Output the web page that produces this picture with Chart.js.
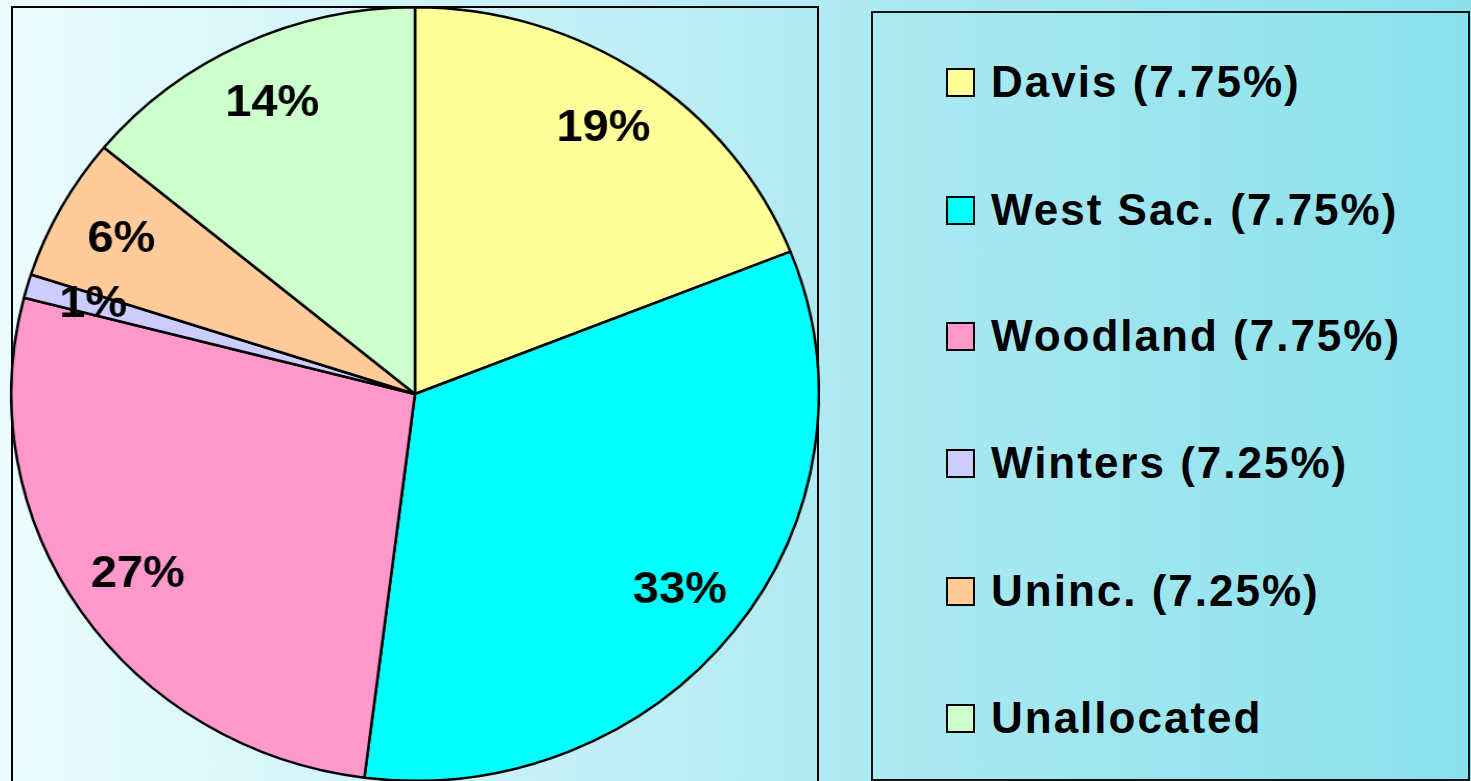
<!DOCTYPE html>
<html>
<head>
<meta charset="utf-8">
<title>Sales tax share by jurisdiction</title>
<script src="https://cdn.jsdelivr.net/npm/chart.js@4/dist/chart.umd.min.js"></script>
<style>
  html, body {
    margin: 0;
    width: 1471px;
    height: 781px;
    overflow: hidden;
    font-family: "Liberation Sans", Arial, sans-serif;
  }
  body {
    position: relative;
    background: linear-gradient(to right, #ecfcfe 0%, #b0eaf2 56%, #8ae1eb 100%);
  }
  #plot-box {
    position: absolute;
    left: 11px;
    top: 6px;
    width: 804px;
    height: 800px;
    border: 2px solid #000;
  }
  #pie-wrap {
    position: absolute;
    left: 27px;
    top: 6px;
    width: 776px;
    height: 776px;
    /* the pie is drawn a little wider than tall */
    transform: scaleX(1.044);
    transform-origin: 50% 50%;
  }
  #legend-box {
    position: absolute;
    left: 871px;
    top: 11px;
    width: 595px;
    height: 766px;
    border: 2px solid #111;
  }
  .legend-row {
    position: absolute;
    left: 73px;
    height: 40px;
    display: flex;
    align-items: center;
    font-weight: bold;
    font-size: 44px;
    letter-spacing: 2px;
    color: #000;
    white-space: nowrap;
  }
  .legend-swatch {
    width: 25px;
    height: 25px;
    border: 2px solid #000;
    margin-right: 16px;
    flex: none;
  }
</style>
</head>
<body>
<div id="plot-box"></div>
<div id="pie-wrap"><canvas id="pie" width="776" height="776"></canvas></div>
<div id="legend-box"></div>

<script>
// ─── Data ───────────────────────────────────────────────────────────────────
const categories = ['Davis', 'West Sac.', 'Woodland', 'Winters', 'Uninc.', 'Unallocated'];
const taxRates = ['7.75%', '7.75%', '7.75%', '7.25%', '7.25%', ''];
const shares = [19, 33, 27, 1, 6, 14];

// Classic office palette, one per slice.
const sliceColors = ['#FFFF99', '#00FFFF', '#FF99CC', '#CCCCFF', '#FFCC99', '#CCFFCC'];

// Legend row centres (y within the page).
const legendRowY = [80, 208, 334, 461, 589, 716];

// ─── Slice labels ───────────────────────────────────────────────────────────
// Writes "NN%" inside each slice, along the slice's middle angle.
const sliceLabels = {
  id: 'sliceLabels',
  afterDatasetsDraw(chart) {
    const ctx = chart.ctx;
    const meta = chart.getDatasetMeta(0);
    ctx.save();
    ctx.font = 'bold 45px "Liberation Sans", Arial, sans-serif';
    ctx.fillStyle = '#000';
    ctx.textAlign = 'center';
    ctx.textBaseline = 'middle';
    meta.data.forEach((arc, i) => {
      const { x, y, startAngle, endAngle, outerRadius } = arc.getProps(
        ['x', 'y', 'startAngle', 'endAngle', 'outerRadius'], true);
      const mid = (startAngle + endAngle) / 2;
      const r = outerRadius * 0.83;
      ctx.fillText(shares[i] + '%', x + Math.cos(mid) * r, y + Math.sin(mid) * r);
    });
    ctx.restore();
  },
};

// ─── Chart ──────────────────────────────────────────────────────────────────
const chart = new Chart(document.getElementById('pie'), {
  type: 'pie',
  data: {
    labels: categories,
    datasets: [{
      data: shares,
      backgroundColor: sliceColors,
      borderColor: '#000',
      borderWidth: 2.5,
    }],
  },
  options: {
    responsive: false,
    animation: false,
    layout: { padding: 0 },
    plugins: {
      legend: { display: false },
      tooltip: { enabled: false },
    },
  },
  plugins: [sliceLabels],
});

// ─── Legend ─────────────────────────────────────────────────────────────────
const legendBox = document.getElementById('legend-box');
categories.forEach((name, i) => {
  const row = document.createElement('div');
  row.className = 'legend-row';
  row.style.top = (legendRowY[i] - 11 - 20) + 'px';

  const swatch = document.createElement('span');
  swatch.className = 'legend-swatch';
  swatch.style.background = sliceColors[i];

  const text = document.createElement('span');
  text.textContent = taxRates[i] ? `${name} (${taxRates[i]})` : name;

  row.appendChild(swatch);
  row.appendChild(text);
  legendBox.appendChild(row);
});
</script>
</body>
</html>
